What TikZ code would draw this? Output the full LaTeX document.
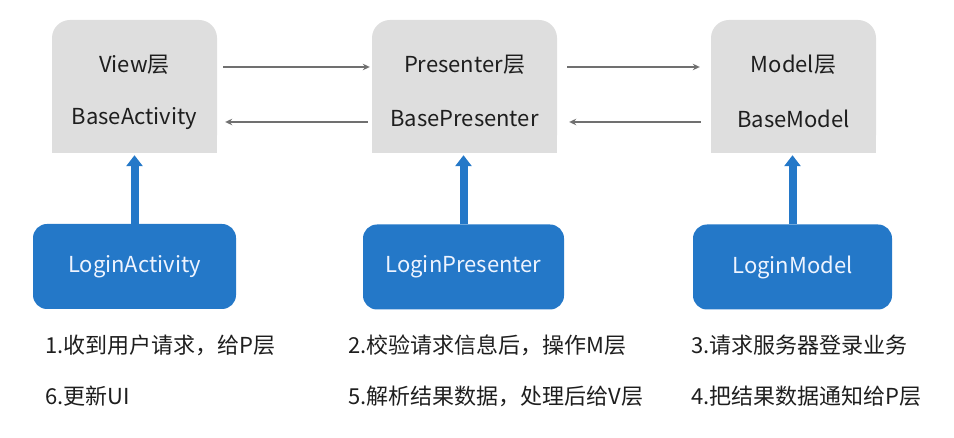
\documentclass[tikz,border=0pt]{standalone}
\usepackage{fontspec}
\setmainfont{Noto Sans CJK SC}
\usetikzlibrary{arrows.meta}
\definecolor{boxgray}{HTML}{DEDEDE}
\definecolor{boxblue}{HTML}{2478C8}
\definecolor{arrgray}{HTML}{707070}
\definecolor{txt}{HTML}{1E1E1E}
\definecolor{bluetxt}{HTML}{EEF4FF}
\tikzset{
  graybox/.style={fill=boxgray, rounded corners=18pt, minimum height=133pt, inner sep=0pt},
  bluebox/.style={fill=boxblue, rounded corners=14pt, minimum height=85pt, text=bluetxt, font=\fontsize{22}{25}\selectfont},
  lbl/.style={text=txt, font=\fontsize{22}{25}\selectfont, inner sep=0pt},
  note/.style={text=txt, font=\fontsize{22}{25}\selectfont, anchor=west, inner sep=0pt},
  grayarrow/.style={draw=arrgray, line width=2.3pt, -{Stealth[length=7pt,width=6.5pt]}},
  bluearrow/.style={draw=boxblue, line width=8pt, -{Triangle[length=11pt,width=16pt]}, shorten >=0pt}
}
\begin{document}
\begin{tikzpicture}[x=1pt,y=-1pt]
\useasboundingbox (0,0) rectangle (954,438);
% gray layer boxes
\node[graybox, minimum width=165pt] (view) at (134.5,86.5) {};
\fill[boxgray] (view.west) rectangle (view.south east);
\node[graybox, minimum width=185pt] (pres) at (464.5,86.5) {};
\fill[boxgray] (pres.west) rectangle (pres.south east);
\node[graybox, minimum width=165pt] (model) at (793.5,86.5) {};
\fill[boxgray] (model.west) rectangle (model.south east);
% labels
\node[lbl] (v1) at (134.5,65) {View层};
\node[lbl] (v2) at (134.5,119) {BaseActivity};
\node[lbl] (p1) at (464.5,65) {Presenter层};
\node[lbl] (p2) at (464.5,119) {BasePresenter};
\node[lbl] (m1) at (793.5,65) {Model层};
\node[lbl] (m2) at (793.5,119) {BaseModel};
% gray arrows
\draw[grayarrow] ([xshift=6pt,yshift=19.5pt]view.east) -- ([xshift=-2pt,yshift=19.5pt]pres.west);
\draw[grayarrow] ([xshift=-4pt,yshift=-35.5pt]pres.west) -- ([xshift=8pt,yshift=-35.5pt]view.east);
\draw[grayarrow] ([xshift=10pt,yshift=19.5pt]pres.east) -- ([xshift=-11pt,yshift=19.5pt]model.west);
\draw[grayarrow] ([xshift=-10pt,yshift=-35.5pt]model.west) -- ([xshift=12pt,yshift=-35.5pt]pres.east);
% blue boxes
\node[bluebox, minimum width=203pt] (la) at (134.5,266.5) {LoginActivity};
\node[bluebox, minimum width=201pt] (lp) at (463.5,267) {LoginPresenter};
\node[bluebox, minimum width=199pt] (lm) at (792.5,267) {LoginModel};
% blue arrows
\draw[bluearrow] (la.north) -- ([yshift=-2pt]view.south);
\draw[bluearrow] (lp.north) -- ([xshift=-1pt,yshift=-2pt]pres.south);
\draw[bluearrow] (lm.north) -- ([xshift=-1pt,yshift=-2pt]model.south);
% notes
\node[note] (n1) at (45,345) {1.收到用户请求，给P层};
\node[note] (n6) at (45,396) {6.更新UI};
\node[note] (n2) at (348,345) {2.校验请求信息后，操作M层};
\node[note] (n5) at (348,396) {5.解析结果数据，处理后给V层};
\node[note] (n3) at (691,345) {3.请求服务器登录业务};
\node[note] (n4) at (691,396) {4.把结果数据通知给P层};
\end{tikzpicture}
\end{document}
